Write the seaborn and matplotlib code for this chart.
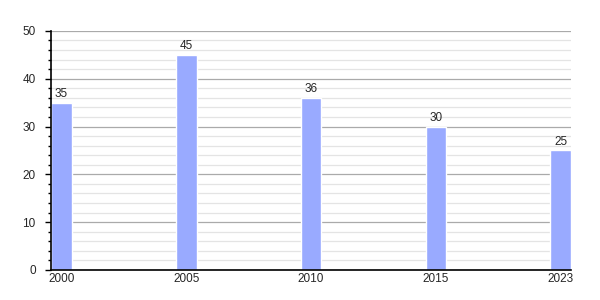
import matplotlib
matplotlib.use("Agg")
import matplotlib.pyplot as plt
import seaborn as sns
import pandas as pd
from matplotlib.ticker import MultipleLocator

years = ["2000", "2005", "2010", "2015", "2023"]
values = [35, 45, 36, 30, 25]

sns.set_style("white")
plt.rcParams['font.family'] = ['Liberation Sans', 'DejaVu Sans']

df = pd.DataFrame({"year": years, "value": values})

fig = plt.figure(figsize=(6, 3), dpi=100)
ax = fig.add_axes([0.085, 0.1, 0.867, 0.797])

w = 0.166
sns.barplot(data=df, x="year", y="value", color="#99aaff", width=w, ax=ax,
            saturation=1, zorder=3)

ax.set_xlim(-w / 2, len(years) - 1 + w / 2)
ax.set_ylim(0, 50)
ax.yaxis.set_major_locator(MultipleLocator(10))
ax.yaxis.set_minor_locator(MultipleLocator(2))
ax.grid(which="major", axis="y", color="#aaaaaa", linewidth=0.9, zorder=0)
ax.grid(which="minor", axis="y", color="#e4e4e4", linewidth=0.9, zorder=0)
ax.set_axisbelow(True)

for s in ["top", "right"]:
    ax.spines[s].set_visible(False)
for s in ["left", "bottom"]:
    ax.spines[s].set_color("black")
    ax.spines[s].set_linewidth(1.2)
    ax.spines[s].set_zorder(5)

ax.tick_params(axis="y", which="major", length=4, width=1, color="black",
               labelsize=8.5, pad=7, direction="out", left=True)
ax.tick_params(axis="y", which="minor", length=2, width=1, color="black",
               direction="out", left=True)
ax.tick_params(axis="x", length=0, labelsize=8.5, pad=2)
ax.set_xlabel("")
ax.set_ylabel("")

for c in ax.containers:
    ax.bar_label(c, labels=[str(v) for v in values], fontsize=8.5, padding=2)

fig.savefig("out.png", dpi=100)
